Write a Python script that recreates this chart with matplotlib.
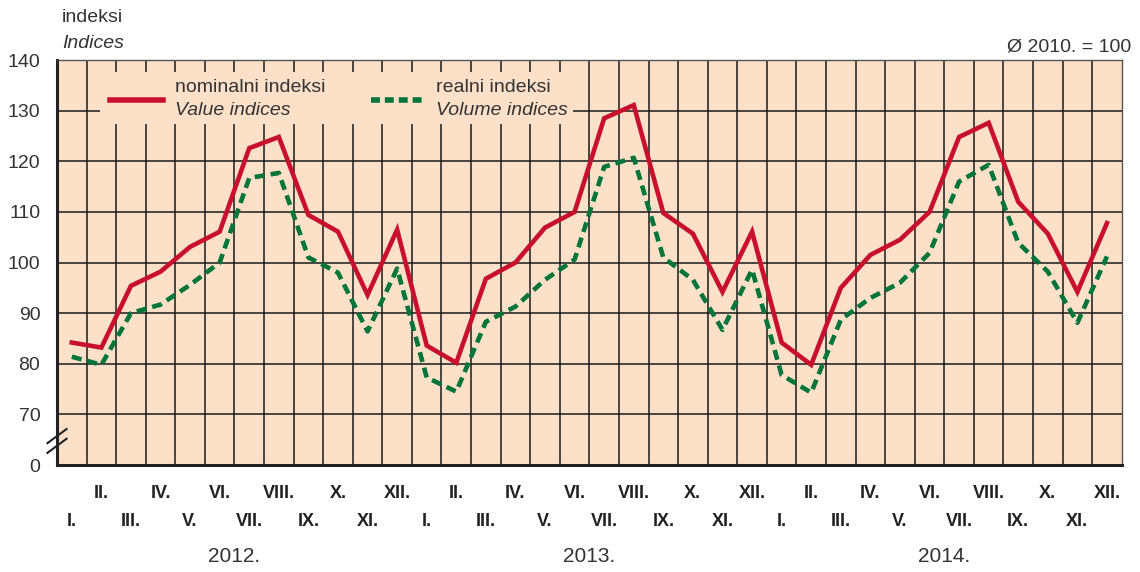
import matplotlib.pyplot as plt
from matplotlib.patches import Rectangle

plt.rcParams['font.family'] = ['Liberation Sans', 'DejaVu Sans']

# mjesečni indeksi, 2012-2014 (Ø 2010. = 100)
nominal = [84.2, 83.2, 95.4, 98.2, 103.1, 106.1, 122.6, 124.8, 109.4, 106.1, 93.6, 106.5,
           83.6, 80.2, 96.8, 100.0, 106.9, 110.0, 128.5, 131.1, 109.8, 105.7, 94.2, 106.1,
           84.2, 79.8, 95.0, 101.5, 104.5, 110.0, 124.8, 127.6, 112.0, 105.7, 94.2, 107.8]
real = [81.4, 79.8, 90.0, 91.7, 95.6, 100.0, 116.7, 117.7, 101.0, 98.0, 86.4, 98.8,
        77.3, 74.5, 88.3, 91.3, 96.6, 100.6, 118.9, 120.7, 101.0, 96.6, 86.7, 98.6,
        77.8, 74.3, 88.7, 93.0, 96.0, 101.9, 116.0, 119.3, 103.9, 98.2, 88.1, 101.2]
months = ['I.', 'II.', 'III.', 'IV.', 'V.', 'VI.', 'VII.', 'VIII.', 'IX.', 'X.', 'XI.', 'XII.']
years = ['2012.', '2013.', '2014.']
yticks = [70, 80, 90, 100, 110, 120, 130, 140]

red = '#C8102E'
green = '#00753A'
bg = '#FCE0C8'
txt = '#333333'

fig = plt.figure(figsize=(11.4, 5.72), dpi=100)
ax = fig.add_axes([0.05, 0.187, 0.934, 0.708])
ax.set_facecolor(bg)

x = list(range(len(nominal)))
ax.set_xlim(-0.5, len(nominal) - 0.5)
ax.set_ylim(60, 140)  # 60 na osi predstavlja 0 (prekid osi)

# mreža
for i in range(1, len(nominal)):
    ax.axvline(i - 0.5, color='#1a1a1a', lw=1.1, zorder=1)
for v in yticks[:-1]:
    ax.axhline(v, color='#1a1a1a', lw=1.1, zorder=1)

# pozadina legende prekriva mrežu
ax.add_patch(Rectangle((0.95, 127.4), 16.0, 10.2, facecolor=bg, edgecolor='none', zorder=2))

ax.plot(x, nominal, color=red, lw=3.3, zorder=4, solid_joinstyle='miter')
ax.plot(x, real, color=green, lw=3.3, ls=(0, (2.2, 1.3)), zorder=3)

# osi
ax.set_xticks([])
ax.set_yticks([60] + yticks)
ax.set_yticklabels(['0'] + [str(v) for v in yticks], fontsize=14, color=txt)
ax.tick_params(axis='y', length=0, pad=12)
for s in ['left', 'bottom']:
    ax.spines[s].set_linewidth(2.2)
    ax.spines[s].set_color('#222222')
for s in ['top', 'right']:
    ax.spines[s].set_linewidth(1.0)
    ax.spines[s].set_color('#555555')

# oznaka prekida osi
for dy in [0.0, 0.024]:
    ax.plot([-0.009, 0.009], [0.03 + dy, 0.065 + dy], transform=ax.transAxes, color='#222222',
            lw=1.5, clip_on=False, zorder=5)

# legenda
ax.plot([1.3, 3.1], [132.2, 132.2], color=red, lw=4, zorder=5)
ax.text(3.5, 134.5, 'nominalni indeksi', fontsize=14, color=txt, va='center', zorder=5)
ax.text(3.5, 130.0, 'Value indices', fontsize=14, color=txt, style='italic', va='center', zorder=5)
ax.plot([10.1, 11.9], [132.2, 132.2], color=green, lw=4, ls=(0, (1.6, 0.9)), zorder=5)
ax.text(12.3, 134.5, 'realni indeksi', fontsize=14, color=txt, va='center', zorder=5)
ax.text(12.3, 130.0, 'Volume indices', fontsize=14, color=txt, style='italic', va='center', zorder=5)

# oznake mjeseci i godina
for i in x:
    m = i % 12
    yy = -0.07 if m % 2 == 1 else -0.14
    ax.text(i, yy, months[m], transform=ax.get_xaxis_transform(), ha='center', va='center',
            fontsize=13, fontweight='bold', color='#222222')
for k, yr in enumerate(years):
    ax.text(12 * k + 5.5, -0.225, yr, transform=ax.get_xaxis_transform(), ha='center',
            va='center', fontsize=15, color=txt)

fig.text(62 / 1140, 1 - 18 / 572, 'indeksi', fontsize=14, color=txt, va='center')
fig.text(62 / 1140, 1 - 43 / 572, 'Indices', fontsize=14, color=txt, style='italic', va='center')
fig.text(1131 / 1140, 1 - 47 / 572, 'Ø 2010. = 100', fontsize=14,
         color=txt, ha='right', va='center')

fig.savefig('out.png', dpi=100)
